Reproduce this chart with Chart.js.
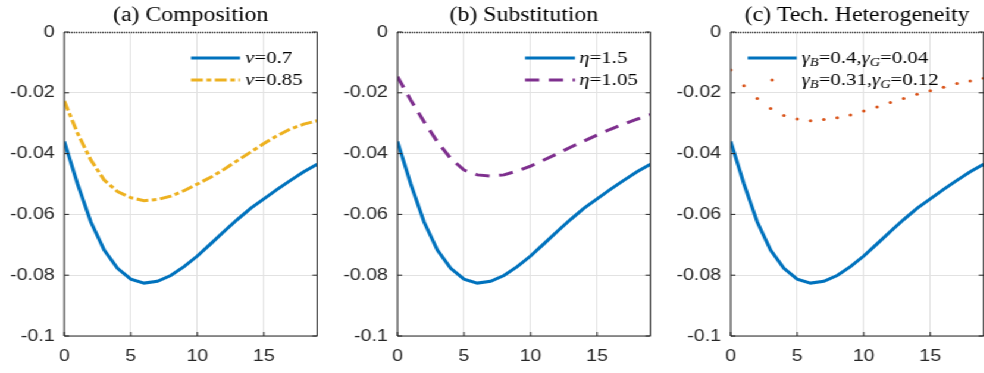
<!DOCTYPE html>
<html>
<head>
<meta charset="utf-8">
<script src="https://cdn.jsdelivr.net/npm/chart.js@4/dist/chart.umd.min.js"></script>
<style>
  html, body { margin: 0; padding: 0; background: #fff; overflow: hidden; width: 984px; height: 373px; }
  /* the original figure is stretched horizontally, so the whole strip is drawn narrow and scaled */
  #wrap { position: absolute; left: 0; top: 0; width: 840px; height: 373px; transform: scaleX(1.19); transform-origin: 0 0; }
  #wrap canvas { position: absolute; top: 0; }
</style>
</head>
<body>
<div id="wrap">
  <canvas id="panelA" width="280" height="373" style="left:0px"></canvas>
  <canvas id="panelB" width="280" height="373" style="left:280px"></canvas>
  <canvas id="panelC" width="280" height="373" style="left:560px"></canvas>
</div>
<script>
// horizon (quarters after the shock)
const steps = [0, 1, 2, 3, 4, 5, 6, 7, 8, 9, 10, 11, 12, 13, 14, 15, 16, 17, 18, 19];

// baseline response, same in all three panels
const baseCase = [-0.0360, -0.0500, -0.0625, -0.0717, -0.0777, -0.0813, -0.0826, -0.0820, -0.0801, -0.0772,
                  -0.0737, -0.0697, -0.0656, -0.0617, -0.0580, -0.0549, -0.0518, -0.0488, -0.0460, -0.0435];
// (a) nu = 0.85
const nuHigh = [-0.0227, -0.0333, -0.0421, -0.0487, -0.0525, -0.0545, -0.0555, -0.0551, -0.0540, -0.0522,
                -0.0500, -0.0478, -0.0452, -0.0423, -0.0395, -0.0367, -0.0341, -0.0319, -0.0303, -0.0292];
// (b) eta = 1.05
const etaLow = [-0.0147, -0.0224, -0.0295, -0.0361, -0.0416, -0.0454, -0.0470, -0.0474, -0.0470, -0.0457,
                -0.0441, -0.0421, -0.0401, -0.0379, -0.0359, -0.0339, -0.0320, -0.0303, -0.0287, -0.0272];
// (c) gamma_B = 0.31, gamma_G = 0.12
const techAlt = [-0.0125, -0.0177, -0.0219, -0.0252, -0.0275, -0.0286, -0.0292, -0.0288, -0.0282, -0.0273,
                 -0.0260, -0.0247, -0.0232, -0.0219, -0.0205, -0.0193, -0.0182, -0.0169, -0.0161, -0.0152];

const xTicks = [0, 5, 10, 15];
const yTicks = [0, -0.02, -0.04, -0.06, -0.08, -0.1];

const titles = ['(a) Composition', '(b) Substitution', '(c) Tech. Heterogeneity'];
// legend labels as [text, style] pieces: r = roman, i = italic, s = italic subscript
const legendA = [[['\u03BD', 'i'], ['=0.7', 'r']], [['\u03BD', 'i'], ['=0.85', 'r']]];
const legendB = [[['\u03B7', 'i'], ['=1.5', 'r']], [['\u03B7', 'i'], ['=1.05', 'r']]];
const legendC = [
  [['\u03B3', 'i'], ['B', 's'], ['=0.4,', 'r'], ['\u03B3', 'i'], ['G', 's'], ['=0.04', 'r']],
  [['\u03B3', 'i'], ['B', 's'], ['=0.31,', 'r'], ['\u03B3', 'i'], ['G', 's'], ['=0.12', 'r']]
];

const BLUE = '#0072BD', YELLOW = '#EDB120', PURPLE = '#7E2F8E', ORANGE = '#D95319';
const AXIS = '#262626';
const DASH_DOT = [10, 3, 4, 3];
const DASHED = [12, 8];

function points(values) {
  return steps.map((s, i) => ({ x: s, y: values[i] }));
}

function drawRich(ctx, pieces, x, y) {
  for (const [text, style] of pieces) {
    if (style === 's') {
      ctx.font = 'italic 12px "Liberation Serif"';
      ctx.fillText(text, x, y + 3);
    } else {
      ctx.font = (style === 'i' ? 'italic ' : '') + '17.5px "Liberation Serif"';
      ctx.fillText(text, x, y);
    }
    x += ctx.measureText(text).width;
  }
}

const frame = {
  id: 'frame',
  afterDraw(chart, args, opts) {
    const { ctx, chartArea: a } = chart;
    const xs = chart.scales.x, ys = chart.scales.y;
    ctx.save();

    // title
    ctx.fillStyle = '#000';
    ctx.font = '20px "Liberation Serif"';
    ctx.textAlign = 'center';
    ctx.textBaseline = 'middle';
    ctx.fillText(opts.title, (a.left + a.right) / 2, 16);

    // box: solid left / bottom / right, dotted top
    ctx.strokeStyle = AXIS;
    ctx.lineWidth = 1;
    ctx.beginPath();
    ctx.moveTo(a.left, a.top);
    ctx.lineTo(a.left, a.bottom);
    ctx.lineTo(a.right, a.bottom);
    ctx.lineTo(a.right, a.top);
    ctx.stroke();
    ctx.setLineDash([1, 1]);
    ctx.lineWidth = 1.5;
    ctx.beginPath();
    ctx.moveTo(a.left, a.top + 0.5);
    ctx.lineTo(a.right, a.top + 0.5);
    ctx.stroke();
    ctx.setLineDash([]);
    ctx.lineWidth = 1;

    // inward tick marks
    ctx.beginPath();
    for (const v of yTicks) {
      const py = ys.getPixelForValue(v);
      ctx.moveTo(a.left, py); ctx.lineTo(a.left + 4, py);
      ctx.moveTo(a.right, py); ctx.lineTo(a.right - 4, py);
    }
    for (const v of xTicks) {
      const px = xs.getPixelForValue(v);
      ctx.moveTo(px, a.bottom); ctx.lineTo(px, a.bottom - 4);
    }
    ctx.stroke();

    // legend
    ctx.textAlign = 'left';
    ctx.textBaseline = 'alphabetic';
    opts.legend.forEach((row, i) => {
      const y = opts.rowY[i];
      ctx.strokeStyle = row.color;
      ctx.fillStyle = row.color;
      if (row.dot) {
        ctx.beginPath();
        ctx.arc((opts.x0 + opts.x1) / 2, y, 1.5, 0, Math.PI * 2);
        ctx.fill();
      } else {
        ctx.lineWidth = 3;
        ctx.setLineDash(row.dash || []);
        ctx.beginPath();
        ctx.moveTo(opts.x0, y);
        ctx.lineTo(opts.x1, y);
        ctx.stroke();
        ctx.setLineDash([]);
      }
      ctx.fillStyle = '#000';
      drawRich(ctx, row.label, opts.tx, y + 5);
    });
    ctx.restore();
  }
};

function makePanel(id, title, datasets, legend, lx) {
  new Chart(document.getElementById(id), {
    type: 'line',
    data: { datasets },
    options: {
      responsive: false,
      animation: false,
      events: [],
      layout: { padding: { left: 0, right: 13.5, top: 32, bottom: 0 } },
      plugins: {
        legend: { display: false },
        tooltip: { enabled: false },
        frame: { title, legend, x0: lx[0], x1: lx[1], tx: lx[2], rowY: [58, 80] }
      },
      scales: {
        x: {
          type: 'linear',
          min: 0,
          max: 19,
          border: { display: false },
          grid: { color: '#e2e2e2', drawTicks: false },
          ticks: {
            stepSize: 5,
            includeBounds: false,
            padding: 11,
            color: AXIS,
            font: { family: '"Liberation Sans", Arial', size: 16.5 }
          },
          afterFit: s => { s.height = 37; }
        },
        y: {
          min: -0.1,
          max: 0,
          border: { display: false },
          grid: { color: '#e2e2e2', drawTicks: false },
          ticks: {
            stepSize: 0.02,
            padding: 8,
            color: AXIS,
            font: { family: '"Liberation Sans", Arial', size: 16.5 },
            callback: v => parseFloat(v.toFixed(2)).toString()
          },
          afterFit: s => { s.width = 54; }
        }
      }
    },
    plugins: [frame]
  });
}

function solid(values, color) {
  return { data: points(values), borderColor: color, borderWidth: 3, pointRadius: 0, tension: 0 };
}

makePanel('panelA', titles[0], [
  solid(baseCase, BLUE),
  { ...solid(nuHigh, YELLOW), borderDash: DASH_DOT }
], [
  { label: legendA[0], color: BLUE },
  { label: legendA[1], color: YELLOW, dash: DASH_DOT }
], [160.5, 201.7, 206]);

makePanel('panelB', titles[1], [
  solid(baseCase, BLUE),
  { ...solid(etaLow, PURPLE), borderDash: DASHED }
], [
  { label: legendB[0], color: BLUE },
  { label: legendB[1], color: PURPLE, dash: DASHED }
], [161.2, 203.2, 206.8]);

makePanel('panelC', titles[2], [
  solid(baseCase, BLUE),
  { data: points(techAlt), showLine: false, pointRadius: 1.5, pointBorderWidth: 0,
    pointBackgroundColor: ORANGE, borderColor: ORANGE }
], [
  { label: legendC[0], color: BLUE },
  { label: legendC[1], color: ORANGE, dot: true }
], [68.3, 109.5, 113.7]);
</script>
</body>
</html>
